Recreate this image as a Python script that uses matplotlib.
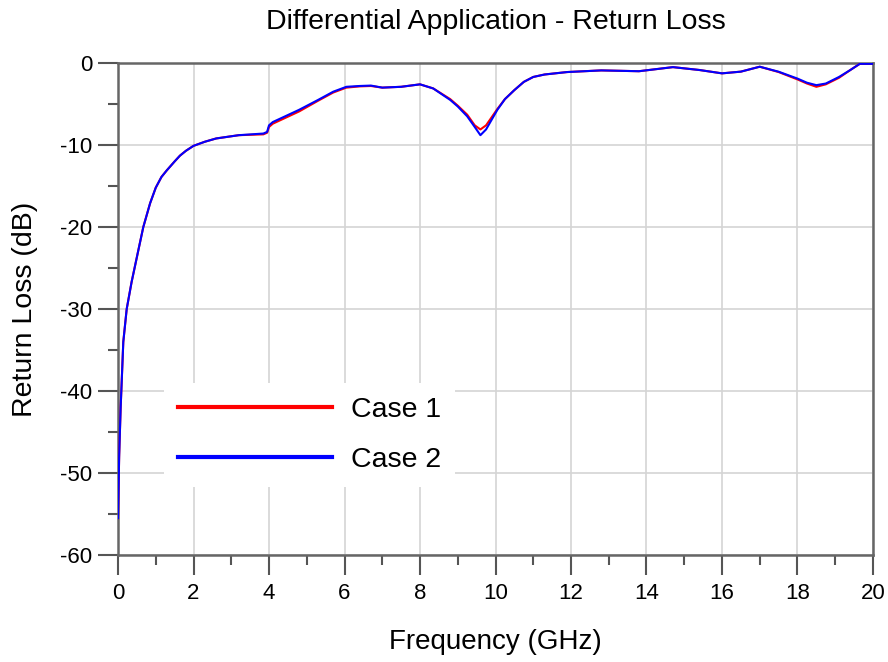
import matplotlib.pyplot as plt
import numpy as np

plt.rcParams['font.family'] = ['Liberation Sans', 'DejaVu Sans']
plt.rcParams['axes.unicode_minus'] = False

# frequency points (GHz)
freq = [0.0, 0.03, 0.07, 0.14, 0.23, 0.36, 0.54, 0.67, 0.85, 1.0, 1.15, 1.29,
        1.5, 1.64, 1.8, 2.0, 2.3, 2.6, 3.2, 3.85, 3.95, 4.0, 4.1, 4.8, 5.3,
        5.7, 6.05, 6.4, 6.7, 7.0, 7.5, 8.0, 8.35, 8.8, 9.0, 9.25, 9.45, 9.6,
        9.75, 10.05, 10.25, 10.5, 10.75, 11.0, 11.3, 11.9, 12.8, 13.8, 14.7,
        15.4, 16.0, 16.5, 17.0, 17.5, 18.0, 18.25, 18.5, 18.75, 19.1, 19.4,
        19.65, 20.0]

case1 = [-55.5, -48.0, -42.0, -34.0, -30.0, -26.7, -22.8, -20.0, -17.1, -15.2,
         -13.9, -13.1, -12.0, -11.3, -10.7, -10.1, -9.6, -9.2, -8.8, -8.7,
         -8.5, -7.8, -7.4, -5.9, -4.6, -3.6, -3.0, -2.85, -2.8, -3.0, -2.9,
         -2.6, -3.1, -4.4, -5.2, -6.3, -7.6, -8.1, -7.6, -5.6, -4.4, -3.3,
         -2.3, -1.7, -1.4, -1.1, -0.9, -1.0, -0.5, -0.85, -1.26, -1.05, -0.45,
         -1.1, -2.0, -2.5, -2.9, -2.6, -1.8, -0.85, -0.1, -0.1]

case2 = [-55.5, -48.0, -42.0, -34.0, -30.0, -26.7, -22.8, -20.0, -17.1, -15.2,
         -13.9, -13.1, -12.0, -11.3, -10.7, -10.1, -9.6, -9.2, -8.8, -8.6,
         -8.4, -7.6, -7.2, -5.7, -4.5, -3.5, -2.9, -2.8, -2.75, -3.0, -2.9,
         -2.6, -3.1, -4.5, -5.3, -6.5, -7.8, -8.8, -8.1, -5.7, -4.4, -3.3,
         -2.3, -1.7, -1.4, -1.1, -0.9, -1.0, -0.5, -0.85, -1.26, -1.05, -0.45,
         -1.06, -1.9, -2.4, -2.7, -2.5, -1.7, -0.85, -0.1, -0.1]

labels = ['Case 1', 'Case 2']
colors = ['#ff0000', '#0000ff']

fig = plt.figure(figsize=(8.88, 6.62), dpi=100)
ax = fig.add_axes([0.1329, 0.1616, 0.8502, 0.7432])

ax.plot(freq, case1, color=colors[0], lw=1.5, label=labels[0], zorder=3)
ax.plot(freq, case2, color=colors[1], lw=1.5, label=labels[1], zorder=4)

ax.set_xlim(0, 20)
ax.set_ylim(-60, 0)
ax.set_xticks(np.arange(0, 21, 2))
ax.set_xticks(np.arange(1, 20, 2), minor=True)
ax.set_yticks(np.arange(-60, 1, 10))
ax.set_yticks(np.arange(-55, 0, 10), minor=True)

ax.grid(True, which='major', color='#d4d4d4', lw=1.2, zorder=0)
ax.tick_params(which='major', direction='out', length=14.5, width=1.5,
               color='#555555', labelsize=16, pad=4)
ax.tick_params(axis='x', which='major', pad=6)
ax.tick_params(which='minor', direction='out', length=7.5, width=1.5,
               color='#555555')
for s in ax.spines.values():
    s.set_color('#666666')
    s.set_linewidth(1.8)

fig.text(495.5 / 888, 1 - 22 / 662, 'Differential Application - Return Loss',
         fontsize=20.5, ha='center', va='center')
ax.set_xlabel('Frequency (GHz)', fontsize=20)
ax.set_ylabel('Return Loss (dB)', fontsize=20.5)
ax.xaxis.set_label_coords(0.5, (555 - 642) / 492)
ax.yaxis.set_label_coords((25 - 118) / 755, 0.5)
ax.xaxis.label.set_va('center')
ax.yaxis.label.set_va('center')

leg = ax.legend(loc='upper left', bbox_to_anchor=(0.061, 0.3496),
                borderaxespad=0, frameon=True, fancybox=False,
                fontsize=20.5, handlelength=5.4, handletextpad=0.67,
                labelspacing=0.82, borderpad=0.5)
leg.get_frame().set_facecolor('white')
leg.get_frame().set_edgecolor('none')
leg.get_frame().set_alpha(1)
for line in leg.get_lines():
    line.set_linewidth(3)

fig.savefig('out.png', dpi=100)
